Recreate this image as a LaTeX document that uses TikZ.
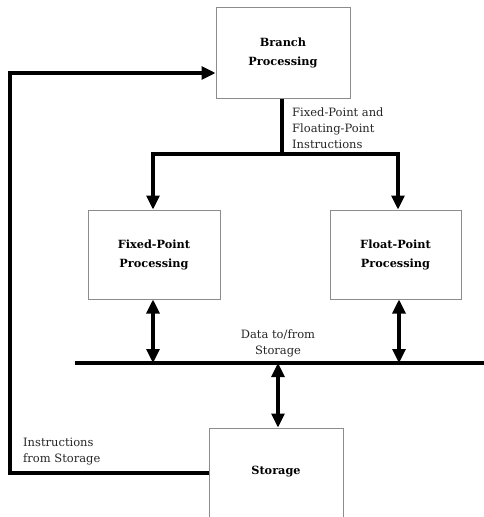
\documentclass[tikz,border=0pt]{standalone}
\usepackage{fontspec}
\setmainfont{DejaVu Serif}
\usetikzlibrary{arrows.meta}
\begin{document}
\begin{tikzpicture}[x=1pt,y=-1pt,
  box/.style={draw=black!45,line width=1pt,fill=white,inner sep=0pt,font=\bfseries\fontsize{11.3}{19}\selectfont,align=center},
  wire/.style={line width=3.2pt,line cap=butt,line join=miter},
  tip/.style={-{Triangle[length=14pt,width=13pt]}},
  both/.style={{Triangle[length=14pt,width=13pt]}-{Triangle[length=14pt,width=13pt]}},
  lbl/.style={font=\fontsize{11.5}{16}\selectfont,align=left,inner sep=0pt,anchor=north west,text=black!85}]
\useasboundingbox (0,0) rectangle (484,517);
\clip (0,0) rectangle (484,517);
\node[box,minimum width=134pt,minimum height=91pt] (branch) at (283,52.5) {Branch\\Processing};
\node[box,minimum width=132pt,minimum height=89pt] (fixed) at (154,254.5) {Fixed-Point\\Processing};
\node[box,minimum width=131pt,minimum height=89pt] (float) at (395.5,254.5) {Float-Point\\Processing};
\node[box,minimum width=134pt,minimum height=100pt] (storage) at (276,478) {};
\node[font=\bfseries\fontsize{11.3}{19}\selectfont,inner sep=0pt] (stortext) at (276,472) {Storage};
\coordinate (busL) at (75,363);
\coordinate (busR) at (484,363);
\coordinate (split) at (282,154);
\coordinate (splitL) at (153,154);
\coordinate (splitR) at (398,154);
\coordinate (fixbus) at (153,363);
\coordinate (flobus) at (399,363);
\coordinate (stbus) at (278,363);
\coordinate (fbA) at (209,473);
\coordinate (fbB) at (10,473);
\coordinate (fbC) at (10,73);
\draw[wire] (busL) -- (busR);
\draw[wire] (branch.south -| split) -- (split);
\draw[wire,tip] (splitL) -- (splitR |- split) -- (splitR |- float.north);
\draw[wire,tip] (split) -- (splitL) -- (splitL |- fixed.north);
\draw[wire,both] (fixed.south -| fixbus) -- (fixbus);
\draw[wire,both] (float.south -| flobus) -- (flobus);
\draw[wire,both] (stbus) -- (stbus |- storage.north);
\draw[wire,tip] (fbA) -- (fbB) -- (fbC) -- (fbC -| branch.west);
\node[lbl] (l1) at (292,108) {Fixed-Point and\\Floating-Point\\Instructions};
\node[lbl,align=center,anchor=center] (l2) at (278,343) {Data to/from\\Storage};
\node[lbl] (l3) at (23,438) {Instructions\\from Storage};
\end{tikzpicture}
\end{document}
